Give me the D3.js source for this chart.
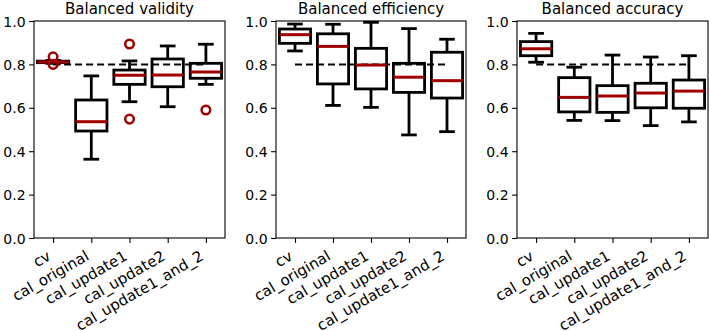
<!DOCTYPE html>
<html>
<head>
<meta charset="utf-8">
<script src="https://cdn.jsdelivr.net/npm/d3@7"></script>
<style>
  body { margin: 0; background: #fff; }
  text { font-family: "DejaVu Sans", sans-serif; fill: #000; }
</style>
</head>
<body>
<div id="chart"></div>
<script>
// categories (one box per method)
var categories = ["cv", "cal_original", "cal_update1", "cal_update2", "cal_update1_and_2"];
var titles = ["Balanced validity", "Balanced efficiency", "Balanced accuracy"];
var yTicks = [0, 0.2, 0.4, 0.6, 0.8, 1.0];
var target = 0.8;

// [whisker low, q1, median, q3, whisker high] per category
var validityStats = [
  [0.805, 0.808, 0.811, 0.815, 0.818],
  [0.363, 0.493, 0.536, 0.636, 0.747],
  [0.628, 0.708, 0.750, 0.774, 0.816],
  [0.605, 0.697, 0.751, 0.825, 0.885],
  [0.708, 0.736, 0.765, 0.805, 0.893]
];
var validityOutliers = [[0.835, 0.800], [], [0.894, 0.548], [], [0.590]];

var efficiencyStats = [
  [0.862, 0.897, 0.937, 0.963, 0.986],
  [0.611, 0.710, 0.883, 0.941, 0.985],
  [0.602, 0.687, 0.797, 0.874, 0.994],
  [0.475, 0.671, 0.741, 0.805, 0.965],
  [0.490, 0.645, 0.725, 0.856, 0.916]
];
var efficiencyOutliers = [[], [], [], [], []];

var accuracyStats = [
  [0.810, 0.840, 0.872, 0.905, 0.943],
  [0.542, 0.581, 0.648, 0.739, 0.787],
  [0.541, 0.579, 0.654, 0.702, 0.843],
  [0.518, 0.600, 0.668, 0.713, 0.834],
  [0.535, 0.598, 0.677, 0.728, 0.840]
];
var accuracyOutliers = [[], [], [], [], []];

var panels = [
  {title: titles[0], stats: validityStats, outliers: validityOutliers, x0: 34, x1: 225},
  {title: titles[1], stats: efficiencyStats, outliers: efficiencyOutliers, x0: 276, x1: 466},
  {title: titles[2], stats: accuracyStats, outliers: accuracyOutliers, x0: 517, x1: 708}
];

var W = 709, H = 331, yTop = 21, yBottom = 238;
var red = "#a00000";
var boxW = 0.82, capW = 0.41, lw = 2.8;

var svg = d3.select("#chart").append("svg")
  .attr("width", W)
  .attr("height", H);

var y = d3.scaleLinear().domain([0, 1]).range([yBottom, yTop]);

panels.forEach(function(p) {
  var x = d3.scaleLinear().domain([0.5, 5.5]).range([p.x0, p.x1]);
  var g = svg.append("g");

  // y axis
  var ya = g.append("g")
    .attr("transform", "translate(" + p.x0 + ",0)")
    .call(d3.axisLeft(y).tickValues(yTicks).tickFormat(d3.format(".1f"))
      .tickSize(4.9).tickSizeOuter(0).tickPadding(3.5));
  ya.select(".domain").remove();
  ya.selectAll("line").attr("stroke-width", 1.1);
  ya.selectAll("text").style("font-size", "14px").attr("dy", "0.36em");

  // x axis
  var xa = g.append("g")
    .attr("transform", "translate(0," + yBottom + ")")
    .call(d3.axisBottom(x).tickValues([1, 2, 3, 4, 5])
      .tickFormat(function(d) { return categories[d - 1]; })
      .tickSize(4.9).tickSizeOuter(0));
  xa.select(".domain").remove();
  xa.selectAll("line").attr("stroke-width", 1.1);
  xa.selectAll("text")
    .style("font-size", "15px")
    .attr("text-anchor", "end")
    .attr("y", 0).attr("dy", 0)
    .attr("transform", "translate(-1.8,21) rotate(-30)");

  // frame
  g.append("rect")
    .attr("x", p.x0).attr("y", yTop)
    .attr("width", p.x1 - p.x0).attr("height", yBottom - yTop)
    .attr("fill", "none").attr("stroke", "#000").attr("stroke-width", 1.1);

  // title
  g.append("text")
    .attr("x", (p.x0 + p.x1) / 2).attr("y", 14)
    .attr("text-anchor", "middle")
    .style("font-size", "15px")
    .text(p.title);

  // target line
  g.append("line")
    .attr("x1", x(1)).attr("x2", x(5))
    .attr("y1", y(target)).attr("y2", y(target))
    .attr("stroke", "#000").attr("stroke-width", 2)
    .attr("stroke-dasharray", "7,4");

  var boxes = g.selectAll(".box").data(p.stats).enter().append("g")
    .attr("class", "box");

  boxes.each(function(s, i) {
    var b = d3.select(this), c = i + 1;
    // whiskers
    b.append("line").attr("x1", x(c)).attr("x2", x(c))
      .attr("y1", y(s[0])).attr("y2", y(s[1]));
    b.append("line").attr("x1", x(c)).attr("x2", x(c))
      .attr("y1", y(s[3])).attr("y2", y(s[4]));
    // caps
    [s[0], s[4]].forEach(function(v) {
      b.append("line").attr("x1", x(c - capW / 2)).attr("x2", x(c + capW / 2))
        .attr("y1", y(v)).attr("y2", y(v));
    });
    b.selectAll("line").attr("stroke", "#000").attr("stroke-width", lw);
    // box
    b.append("rect")
      .attr("x", x(c - boxW / 2)).attr("width", x(c + boxW / 2) - x(c - boxW / 2))
      .attr("y", y(s[3])).attr("height", y(s[1]) - y(s[3]))
      .attr("fill", "none").attr("stroke", "#000").attr("stroke-width", lw);
    // median
    b.append("line")
      .attr("x1", x(c - boxW / 2)).attr("x2", x(c + boxW / 2))
      .attr("y1", y(s[2])).attr("y2", y(s[2]))
      .attr("stroke", red).attr("stroke-width", 3);
    // fliers
    b.selectAll("circle").data(p.outliers[i]).enter().append("circle")
      .attr("cx", x(c)).attr("cy", function(d) { return y(d); })
      .attr("r", 4.3)
      .attr("fill", "none").attr("stroke", red).attr("stroke-width", 2.5);
  });
});
</script>
</body>
</html>
